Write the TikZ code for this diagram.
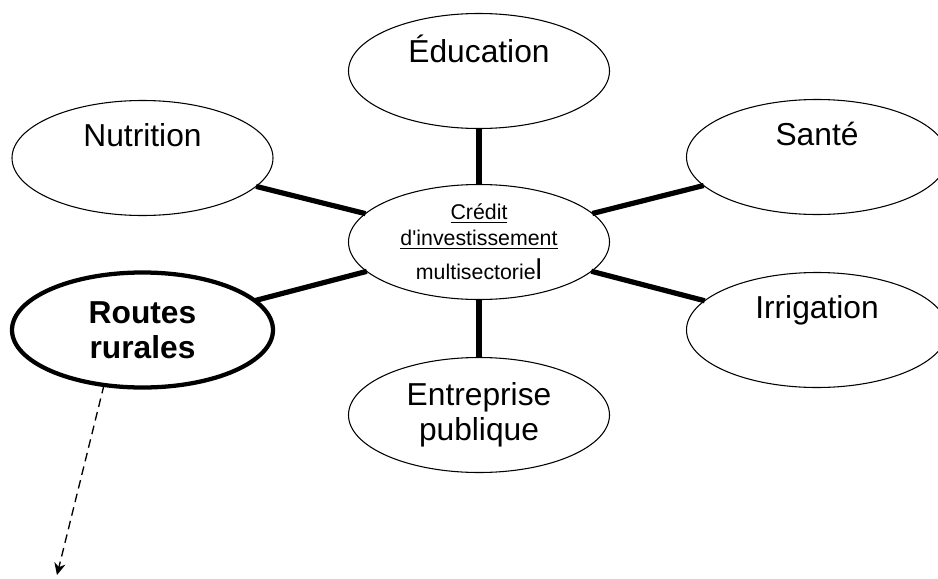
\documentclass[tikz,border=0pt]{standalone}
\usepackage{fontspec}
\setmainfont{Liberation Sans}
\usetikzlibrary{shapes.geometric,arrows.meta}
\begin{document}
\begin{tikzpicture}[x=0.75pt,y=0.75pt,
  bubble/.style={ellipse, draw, fill=white, line width=0.8pt, inner sep=0pt, outer sep=0pt,
    minimum width=195.75pt, minimum height=86.25pt, align=center,
    font=\fontsize{23.8}{26.25}\selectfont},
  boldbubble/.style={bubble, line width=3.2pt, font=\fontsize{23.8}{26.25}\selectfont\bfseries},
  hub/.style={bubble, font=\fontsize{16}{19.5}\selectfont},
  link/.style={line width=3.9pt},
  pointer/.style={dashed, dash pattern=on 6.5pt off 4pt, line width=1pt,
    -{Stealth[length=9pt,width=8.5pt]}}
]
\useasboundingbox (0,0) rectangle (938,-578);
\node[hub] (c) at (479,-242) {\underline{Crédit}\\\underline{d\textquotesingle investissement}\\[6pt]multisectorie{\fontsize{21.5}{21.5}\selectfont l}};
\node[bubble] (edu) at (479,-71) {Éducation\\\strut};
\node[bubble] (nut) at (142.5,-158) {Nutrition\\\strut};
\node[bubble] (san) at (817,-157) {Santé\\\strut};
\node[bubble] (irr) at (817,-330) {Irrigation\\\strut};
\node[boldbubble] (rou) at (142.5,-330) {Routes\\rurales};
\node[bubble] (ent) at (479,-415) {Entreprise\\publique};
\coordinate (tip) at (57,-575);
\draw[link] (c) -- (edu);
\draw[link] (c) -- (nut);
\draw[link] (c) -- (san);
\draw[link] (c) -- (irr);
\draw[link] (c) -- (rou);
\draw[link] (c) -- (ent);
\draw[pointer] (rou.235) -- (tip);
\end{tikzpicture}
\end{document}
